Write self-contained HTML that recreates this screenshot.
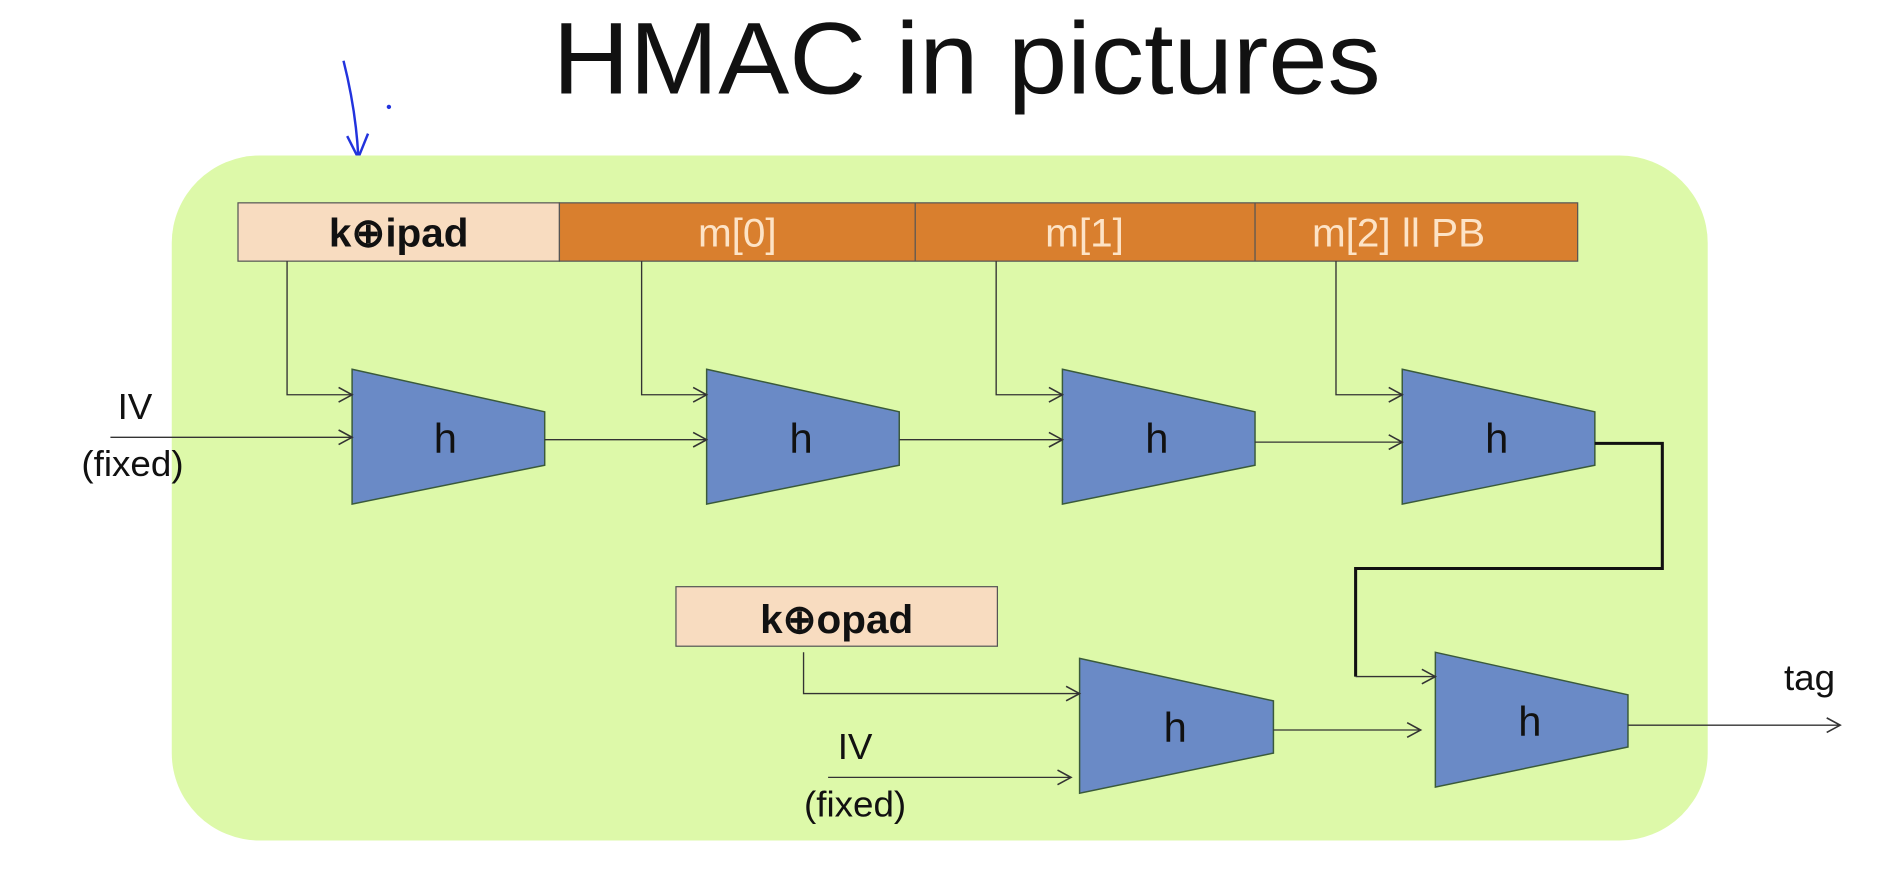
<!DOCTYPE html>
<html><head><meta charset="utf-8"><style>html,body{margin:0;padding:0;background:#fff;overflow:hidden}svg{display:block}</style></head><body>
<svg width="1904" height="894" viewBox="0 0 1552 736" preserveAspectRatio="none" xmlns="http://www.w3.org/2000/svg" font-family="Liberation Sans, sans-serif">
<defs><marker id="a" markerWidth="14" markerHeight="14" refX="12" refY="7" orient="auto" markerUnits="userSpaceOnUse"><path d="M1,1 L12,7 L1,13" fill="none" stroke="#333" stroke-width="1.3"/></marker></defs>
<text x="788" y="77" font-size="84" text-anchor="middle" textLength="675" lengthAdjust="spacingAndGlyphs" fill="#111">HMAC in pictures</text>
<path d="M280,50 Q290,90 292,128 M283,112 L292,130 L300,110" stroke="#2233dd" stroke-width="2" fill="none"/>
<circle cx="317" cy="88" r="1.8" fill="#2233dd"/>
<rect x="140" y="128" width="1252" height="564" rx="72" fill="#ddf9a9"/>
<rect x="194" y="167" width="262" height="48" fill="#f8dcc0" stroke="#555"/>
<rect x="456" y="167" width="830" height="48" fill="#d97f2e" stroke="#555"/>
<line x1="746" y1="167" x2="746" y2="215" stroke="#555"/><line x1="1023" y1="167" x2="1023" y2="215" stroke="#555"/>
<text x="325" y="203" font-size="33" font-weight="bold" text-anchor="middle" fill="#111">k⊕ipad</text>
<g font-size="33" fill="#fde3c6" text-anchor="middle"><text x="601" y="203">m[0]</text><text x="884" y="203">m[1]</text><text x="1140" y="203">m[2]  ll   PB</text></g>
<rect x="551" y="483" width="262" height="49" fill="#f8dcc0" stroke="#555"/>
<text x="682" y="521" font-size="33" font-weight="bold" text-anchor="middle" fill="#111">k⊕opad</text>
<g fill="#6a8ac6" stroke="#3a5a3a" stroke-width="1.2">
<polygon points="287,304 444,339 444,383 287,415"/><polygon points="576,304 733,339 733,383 576,415"/>
<polygon points="866,304 1023,339 1023,383 866,415"/><polygon points="1143,304 1300,339 1300,383 1143,415"/>
<polygon points="880,542 1038,577 1038,620 880,653"/><polygon points="1170,537 1327,572 1327,615 1170,648"/>
</g>
<g font-size="34" fill="#111" text-anchor="middle"><text x="363" y="373">h</text><text x="653" y="373">h</text><text x="943" y="373">h</text><text x="1220" y="373">h</text><text x="958" y="611">h</text><text x="1247" y="606">h</text></g>
<g stroke="#333" stroke-width="1.1" fill="none" marker-end="url(#a)">
<path d="M234,215 V325 H287"/><path d="M523,215 V325 H576"/><path d="M812,215 V325 H866"/><path d="M1089,215 V325 H1143"/>
<path d="M90,360 H287"/><path d="M444,362 H576"/><path d="M733,362 H866"/><path d="M1023,364 H1143"/>
<path d="M655,537 V571 H880"/><path d="M675,640 H873"/><path d="M1038,601 H1158"/><path d="M1327,597 H1500"/>
</g>
<path d="M1300,365 H1355 V468 H1105 V557" stroke="#111" stroke-width="2.5" fill="none"/>
<path d="M1105,557 H1170" stroke="#333" stroke-width="1.1" fill="none" marker-end="url(#a)"/>
<g font-size="30" fill="#111" text-anchor="middle"><text x="110" y="345">IV</text><text x="108" y="392">(fixed)</text><text x="697" y="625">IV</text><text x="697" y="672">(fixed)</text><text x="1475" y="568">tag</text></g>
</svg>
</body></html>
